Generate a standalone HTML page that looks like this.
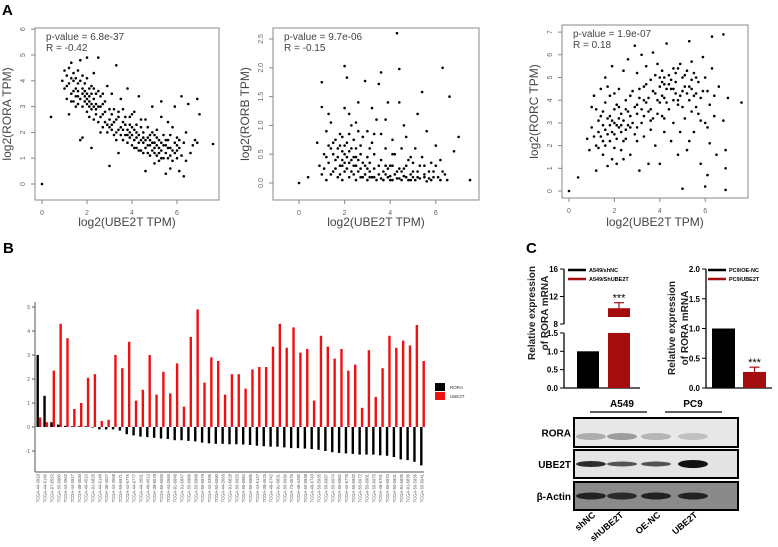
<!DOCTYPE html>
<html><head><meta charset="utf-8">
<style>
html,body{margin:0;padding:0;background:#fff;}
svg{display:block;font-family:"Liberation Sans",sans-serif;}
</style></head>
<body>
<svg id="fig" width="778" height="547" viewBox="0 0 778 547" xmlns="http://www.w3.org/2000/svg">
<text x="2" y="15" font-size="15" font-weight="bold">A</text>
<text x="3" y="253" font-size="15" font-weight="bold">B</text>
<text x="526" y="253" font-size="15" font-weight="bold">C</text>
<g id="scatters"></g>
<g id="barB"></g>
<g id="panelC"></g>
</svg>
<script>
// ---------- Panel A data ----------
const roraPoints = [0,0, 0.4,2.6, 7.6,1.55, 1.0,4.4, 1.1,4.2, 1.2,3.9, 1.3,4.7, 1.4,3.6, 1.5,4.1, 1.6,3.4, 1.7,4.8, 1.8,3.7, 1.9,3.2, 2.0,4.9, 2.0,3.5, 2.1,3.0, 2.2,3.8, 2.3,3.3, 2.4,2.9, 2.5,4.9, 2.5,3.6, 2.6,2.6, 2.7,3.1, 2.8,2.4, 2.9,3.8, 3.0,2.2, 3.1,2.7, 3.2,1.9, 3.3,4.6, 3.3,2.5, 3.4,2.1, 3.5,3.3, 3.6,1.7, 3.7,2.6, 3.8,3.7, 3.8,1.9, 3.9,2.3, 4.0,1.5, 4.1,2.8, 4.2,1.8, 4.3,3.4, 4.3,1.3, 4.4,2.2, 4.5,1.6, 4.6,2.5, 4.7,1.2, 4.8,1.9, 4.9,3.0, 5.0,1.4, 5.0,0.8, 5.1,2.1, 5.2,1.7, 5.3,3.2, 5.4,1.0, 5.5,1.5, 5.6,2.4, 5.7,0.6, 5.8,1.3, 5.9,3.0, 6.0,1.8, 6.1,0.5, 6.2,3.4, 6.3,1.6, 6.5,3.1, 6.6,1.2, 6.8,1.7, 6.9,3.3, 7.0,2.7, 6.0,1.0, 1.2,2.7, 1.5,3.0, 1.8,1.8, 2.2,1.4, 2.6,2.0, 3.0,0.7, 3.4,1.2, 4.0,2.7, 4.6,0.5, 5.5,0.4, 6.3,0.3, 1.0,3.7, 1.6,3.9, 2.4,3.5, 2.8,3.2, 3.6,2.9, 4.4,1.7, 5.2,1.2, 5.8,2.2, 1.7,1.7, 2.3,4.3, 3.1,3.5, 0.9,4.0, 1.1,3.3, 1.3,3.5, 1.4,4.3, 1.5,3.7, 1.7,3.3, 1.8,4.2, 1.9,3.6, 2.0,2.8, 2.1,3.4, 2.2,3.1, 2.3,2.5, 2.5,3.0, 2.7,2.7, 2.9,2.3, 3.0,2.9, 3.2,2.4, 3.3,2.0, 3.5,2.2, 3.7,1.9, 3.9,2.0, 4.0,1.9, 4.1,1.7, 4.2,2.3, 4.3,1.6, 4.5,2.0, 4.6,1.4, 4.7,1.8, 4.8,1.5, 4.9,1.3, 5.0,1.9, 5.1,1.5, 5.2,0.9, 5.3,1.6, 5.4,1.9, 5.5,1.2, 5.6,1.4, 5.7,1.1, 5.9,1.6, 6.0,1.3, 6.2,1.1, 6.4,2.0, 6.7,1.5, 6.9,1.6, 1.6,3.1, 1.9,3.9, 2.1,3.7, 2.4,3.1, 2.6,3.4, 3.6,2.4, 3.8,2.1, 4.2,1.4, 4.4,2.5, 4.7,2.2, 5.1,1.1, 5.3,2.6, 5.6,1.7, 1.3,4.1, 1.4,3.2, 2.0,3.3, 2.2,2.9, 4.8,1.1, 5.0,1.6, 1.2,4.5, 1.4,4.0, 1.5,3.4, 1.6,3.6, 1.7,4.0, 1.8,3.5, 1.9,3.4, 2.0,3.1, 2.1,3.2, 2.2,3.5, 2.3,3.0, 2.4,2.7, 2.5,2.4, 2.6,3.0, 2.7,2.2, 2.8,2.8, 2.9,2.0, 3.0,2.5, 3.1,2.1, 3.2,2.9, 3.3,1.7, 3.4,2.6, 3.5,1.9, 3.6,2.1, 3.7,2.3, 3.8,1.6, 3.9,1.8, 4.0,2.2, 4.1,1.4, 4.2,2.0, 4.3,1.9, 4.4,1.3, 4.5,1.8, 4.6,1.7, 4.7,1.5, 4.8,1.7, 4.9,1.6, 5.0,1.2, 5.1,1.8, 5.2,1.4, 5.3,1.3, 5.4,1.5, 5.5,1.7, 5.6,1.0, 5.7,1.4, 5.8,0.9, 5.9,1.2, 6.0,1.5, 6.1,1.7, 1.1,3.8, 1.3,3.2, 1.6,4.4, 1.8,3.0, 2.0,4.1, 2.1,2.6, 2.3,3.7, 2.7,3.5, 3.1,2.3, 3.4,2.8, 3.9,2.6, 4.1,2.1, 4.5,1.2, 4.9,2.0, 5.3,1.0, 5.7,1.9, 6.1,1.4, 6.4,0.9];
const rorbPoints = [0,0, 0.4,0.1, 7.5,0.05, 1.0,1.75, 1.0,1.32, 1.3,1.2, 1.5,0.7, 1.6,0.4, 1.8,0.3, 1.9,0.55, 2.0,2.03, 2.1,1.83, 2.0,0.2, 2.2,0.35, 2.3,0.6, 2.4,0.15, 2.5,0.45, 2.6,1.4, 2.7,0.25, 2.9,1.77, 3.0,0.9, 3.1,0.1, 3.3,0.5, 3.5,1.72, 3.6,1.92, 3.8,0.3, 3.9,1.4, 4.0,0.05, 4.1,0.75, 4.3,2.6, 4.4,1.98, 4.5,0.2, 4.6,1.0, 4.8,0.4, 5.0,0.1, 5.2,1.2, 5.4,1.58, 5.5,0.3, 5.8,0.05, 6.0,0.65, 6.3,2.0, 6.6,1.5, 6.8,0.55, 7.0,0.8, 0.8,0.7, 0.9,0.3, 1.0,0.15, 1.1,0.5, 1.2,0.05, 1.3,0.35, 1.4,0.6, 1.5,0.2, 1.6,0.75, 1.7,0.1, 1.7,0.45, 1.8,0.65, 1.9,0.05, 1.9,0.3, 2.0,0.5, 2.1,0.25, 2.1,0.7, 2.2,0.1, 2.3,0.4, 2.3,1.0, 2.4,0.3, 2.5,0.05, 2.5,0.6, 2.6,0.2, 2.7,0.5, 2.8,0.1, 2.8,0.8, 2.9,0.3, 3.0,0.05, 3.0,0.45, 3.1,0.2, 3.2,0.1, 3.2,0.7, 3.3,0.25, 3.4,0.05, 3.4,1.1, 3.5,0.15, 3.6,0.4, 3.7,0.05, 3.7,0.2, 3.8,0.6, 3.9,0.1, 4.0,0.3, 4.1,0.05, 4.2,0.15, 4.2,0.5, 4.3,0.08, 4.4,0.25, 4.5,0.05, 4.6,0.12, 4.7,0.3, 4.8,0.05, 4.9,0.15, 5.0,0.35, 5.1,0.05, 5.2,0.2, 5.3,0.08, 5.4,0.45, 5.5,0.1, 5.6,0.03, 5.7,0.2, 5.9,0.1, 6.0,0.3, 6.2,0.05, 6.4,0.15, 6.5,0.05, 1.2,0.9, 1.4,1.05, 2.0,1.3, 2.2,1.2, 2.6,0.9, 3.2,1.3, 3.8,1.1, 4.4,1.4, 4.7,0.8, 5.1,0.6, 5.6,0.9, 6.2,0.4, 1.8,0.85, 2.4,0.75, 3.6,0.85, 4.5,0.6, 1.1,0.25, 1.2,0.45, 1.4,0.15, 1.5,0.5, 1.6,0.25, 1.7,0.6, 1.8,0.15, 1.9,0.4, 2.0,0.35, 2.0,0.65, 2.1,0.45, 2.2,0.55, 2.3,0.2, 2.4,0.45, 2.5,0.3, 2.6,0.4, 2.7,0.1, 2.8,0.35, 2.9,0.15, 3.0,0.25, 3.1,0.35, 3.3,0.1, 3.5,0.3, 3.6,0.08, 3.8,0.15, 3.9,0.25, 4.0,0.12, 4.1,0.3, 4.3,0.2, 4.4,0.08, 4.6,0.25, 4.7,0.1, 4.9,0.05, 5.0,0.2, 5.2,0.1, 5.3,0.3, 5.5,0.15, 5.7,0.08, 5.9,0.2, 6.1,0.1, 6.3,0.2, 1.3,0.65, 1.9,0.8, 2.2,0.85, 2.5,1.05, 2.7,0.65, 3.1,0.6, 3.3,0.85, 4.1,0.5, 4.9,0.45, 5.8,0.35];
const rorcPoints = [0,0, 0.4,0.6, 7.6,3.9, 0.8,2.3, 0.9,1.8, 1.0,2.8, 1.0,3.7, 1.1,4.2, 1.2,0.9, 1.2,2.0, 1.3,3.1, 1.4,2.4, 1.4,4.5, 1.5,1.6, 1.5,3.5, 1.6,2.7, 1.6,5.0, 1.7,1.1, 1.7,3.2, 1.8,2.2, 1.8,4.2, 1.9,5.5, 1.9,1.4, 2.0,3.0, 2.0,2.5, 2.1,3.8, 2.1,1.2, 2.2,4.5, 2.2,2.8, 2.3,3.4, 2.3,1.8, 2.4,5.3, 2.4,2.2, 2.5,3.6, 2.5,4.0, 2.6,2.9, 2.6,5.8, 2.7,1.6, 2.7,3.3, 2.8,4.4, 2.9,2.5, 2.9,6.4, 3.0,3.8, 3.0,5.2, 3.1,0.9, 3.1,4.1, 3.2,3.0, 3.2,6.0, 3.3,4.6, 3.3,2.4, 3.4,5.5, 3.5,3.5, 3.5,1.2, 3.6,4.9, 3.7,3.2, 3.7,6.1, 3.8,4.3, 3.8,2.0, 3.9,5.6, 4.0,3.9, 4.0,1.2, 4.1,4.8, 4.1,3.3, 4.2,5.0, 4.2,2.6, 4.3,4.5, 4.3,6.5, 4.4,3.6, 4.5,4.9, 4.5,2.2, 4.6,5.4, 4.6,3.0, 4.7,4.3, 4.8,1.6, 4.8,3.8, 4.9,5.6, 5.0,4.4, 5.0,0.1, 5.1,3.2, 5.1,5.1, 5.2,1.8, 5.3,4.6, 5.3,6.6, 5.4,3.5, 5.4,5.7, 5.5,4.2, 5.5,2.6, 5.6,5.0, 5.7,3.4, 5.8,4.1, 5.8,1.2, 5.9,5.9, 6.0,3.0, 6.0,0.2, 6.1,4.4, 6.2,2.1, 6.3,5.4, 6.4,3.3, 6.5,1.6, 6.6,4.6, 6.8,6.9, 6.8,3.1, 6.9,1.0, 6.9,1.8, 7.0,4.1, 6.3,6.8, 6.9,0.05, 6.1,0.7, 1.3,2.6, 1.6,2.0, 1.8,3.3, 2.0,3.6, 2.1,2.9, 2.3,2.6, 2.5,2.3, 2.7,2.8, 3.4,3.9, 3.6,3.6, 3.9,4.0, 4.0,4.6, 4.2,4.1, 4.4,4.7, 4.6,4.5, 4.8,4.0, 5.0,3.7, 5.2,4.3, 5.4,4.9, 5.6,4.3, 1.5,2.9, 1.9,2.6, 2.2,3.2, 3.0,3.4, 3.3,4.0, 4.1,5.3, 4.7,5.2, 1.1,2.4, 1.2,3.6, 1.3,1.9, 1.4,3.3, 1.5,2.2, 1.6,3.9, 1.7,2.5, 1.8,2.9, 1.9,3.1, 2.0,1.9, 2.1,2.3, 2.2,3.7, 2.3,2.9, 2.4,3.1, 2.5,2.7, 2.6,3.5, 2.7,4.2, 2.8,3.0, 2.9,3.7, 3.0,2.8, 3.1,4.5, 3.2,3.6, 3.3,3.3, 3.4,4.7, 3.5,4.1, 3.6,3.1, 3.7,4.4, 3.8,5.1, 3.9,3.4, 4.0,5.0, 4.1,4.2, 4.2,4.7, 4.3,3.9, 4.4,5.1, 4.5,4.5, 4.6,4.0, 4.7,4.8, 4.8,5.4, 4.9,4.2, 5.0,5.0, 5.1,4.6, 5.2,5.3, 5.3,4.0, 5.4,4.5, 5.5,5.2, 5.6,3.7, 5.7,4.8, 5.8,3.1, 5.9,4.4, 6.0,5.0, 6.2,3.8, 6.4,4.2, 1.7,4.6, 2.0,4.3, 2.4,1.4, 3.0,2.2, 3.6,2.7, 4.2,3.2, 4.9,2.6, 5.3,2.2, 6.1,2.8];
const scatterTitles = ["log2(RORA TPM)","log2(RORB TPM)","log2(RORC TPM)"];
const scatterStats = [["p-value = 6.8e-37","R = -0.42"],["p-value = 9.7e-06","R = -0.15"],["p-value = 1.9e-07","R = 0.18"]];
const xTicksA = [0,2,4,6];
const yTicksA = [[0,1,2,3,4,5,6],["0.0","0.5","1.0","1.5","2.0","2.5"],[0,1,2,3,4,5,6,7]];
const yTickValsB = [[0,1,2,3,4,5,6],[0,0.5,1,1.5,2,2.5],[0,1,2,3,4,5,6,7]];

// ---------- Panel B data ----------
const sampleIds = ["TCGA-44-3918","TCGA-44-6146","TCGA-97-8552","TCGA-55-6980","TCGA-44-2662","TCGA-44-3917","TCGA-38-4630","TCGA-49-4510","TCGA-91-6829","TCGA-44-6148","TCGA-38-4627","TCGA-44-2668","TCGA-55-6971","TCGA-44-6775","TCGA-44-6777","TCGA-44-2661","TCGA-49-4512","TCGA-38-6678","TCGA-50-6593","TCGA-44-2665","TCGA-91-6849","TCGA-91-6847","TCGA-55-6986","TCGA-55-6968","TCGA-55-6979","TCGA-44-3396","TCGA-50-6590","TCGA-44-2666","TCGA-91-6828","TCGA-50-5933","TCGA-55-6984","TCGA-55-6985","TCGA-44-6147","TCGA-38-4625","TCGA-49-6742","TCGA-91-6831","TCGA-50-5930","TCGA-73-4676","TCGA-49-4490","TCGA-50-5939","TCGA-49-6743","TCGA-50-5935","TCGA-55-6987","TCGA-55-6974","TCGA-55-6982","TCGA-44-6776","TCGA-50-5932","TCGA-55-6972","TCGA-55-6981","TCGA-55-6975","TCGA-49-6761","TCGA-55-6970","TCGA-50-5931","TCGA-91-6835","TCGA-91-6836","TCGA-50-5936","TCGA-50-5941"];
const roraValues = [3.0,1.3,0.2,0.1,0.05,0.03,0.03,0.03,0.0,-0.1,-0.1,-0.1,-0.15,-0.3,-0.35,-0.4,-0.42,-0.45,-0.48,-0.5,-0.55,-0.55,-0.58,-0.6,-0.65,-0.68,-0.7,-0.7,-0.72,-0.72,-0.73,-0.75,-0.78,-0.8,-0.82,-0.82,-0.85,-0.88,-0.88,-0.9,-0.92,-0.95,-1.0,-1.05,-1.08,-1.1,-1.12,-1.15,-1.15,-1.15,-1.18,-1.2,-1.25,-1.35,-1.38,-1.45,-1.6];
const ube2tValues = [0.4,0.2,2.35,4.3,3.7,0.75,1.0,2.05,2.2,0.25,0.3,3.0,2.45,3.55,1.1,1.55,3.0,1.35,2.3,1.4,2.65,0.85,3.75,4.9,1.85,2.9,2.75,1.35,2.2,2.2,1.6,2.4,2.5,2.5,3.35,4.3,3.3,4.15,3.1,3.25,1.1,3.8,3.35,2.85,3.25,2.35,2.6,0.8,3.2,1.25,2.45,3.8,3.3,3.6,3.4,4.25,2.75];
const yTicksB = [-1,0,1,2,3,4,5];

// ---------- Panel C data ----------
const qpcrLeftGroups = ["A549/shNC","A549/ShUBE2T"];
const qpcrLeftValues = [1.0,10.3];
const qpcrLeftErr = [0,0.8];
const qpcrRightGroups = ["PC9/OE-NC","PC9/UBE2T"];
const qpcrRightValues = [1.0,0.27];
const qpcrRightErr = [0,0.08];
const lowTicksL = ["0.0","0.5","1.0","1.5"];
const highTicksL = [8,12,16];
const ticksR = ["0.0","0.5","1.0","1.5","2.0"];
const blotRows = ["RORA","UBE2T","β-Actin"];
const laneLabels = ["shNC","shUBE2T","OE-NC","UBE2T"];

const NS="http://www.w3.org/2000/svg";
function mk(tag, attrs, parent, text){
  const e=document.createElementNS(NS,tag);
  for(const k in attrs) e.setAttribute(k,attrs[k]);
  if(text!==undefined) e.textContent=text;
  parent.appendChild(e); return e;
}

// ---------- Panel A ----------
const sc=document.getElementById('scatters');
const cfgA=[
  {pts:roraPoints, box:[35,28,219,200], x0:42, xu:22.5, y0:184, yu:25.8},
  {pts:rorbPoints, box:[273,28,479,200], x0:299, xu:22.8, y0:183, yu:57.6},
  {pts:rorcPoints, box:[562,25,748,198], x0:569, xu:22.7, y0:191, yu:22.7}
];
cfgA.forEach((c,i)=>{
  const g=mk('g',{},sc);
  
  
  const b=c.box;
  const fr=mk('rect',{x:b[0],y:b[1],width:b[2]-b[0],height:b[3]-b[1],fill:'none',stroke:'#888','stroke-width':1},g);
  
  
  const sx=v=>c.x0+v*c.xu, sy=v=>c.y0-v*c.yu;
  for(let k=0;k<c.pts.length;k+=2){
    const d=mk('circle',{cx:sx(c.pts[k]).toFixed(1),cy:sy(c.pts[k+1]).toFixed(1),r:1.3,fill:'#000'},g);
    
    
  }
  xTicksA.forEach(t=>{
    mk('line',{x1:sx(t),x2:sx(t),y1:b[3],y2:b[3]+4,stroke:'#888'},g);
    const tl=mk('text',{x:sx(t),y:b[3]+15,'font-size':7,fill:'#666','text-anchor':'middle'},g,String(t));
    
    
  });
  yTickValsB[i].forEach((t,j)=>{
    mk('line',{x1:b[0]-4,x2:b[0],y1:sy(t),y2:sy(t),stroke:'#888'},g);
    const tl=mk('text',{x:b[0]-10,y:sy(t),'font-size':7,fill:'#666','text-anchor':'middle',transform:`rotate(-90 ${b[0]-10} ${sy(t)})`},g,String(yTicksA[i][j]));
    
    
  });
  const xl=mk('text',{x:(b[0]+b[2])/2,y:226,'font-size':12,fill:'#444','text-anchor':'middle'},g,'log2(UBE2T TPM)');
  
  
  const yx=b[0]-24, yy=(b[1]+b[3])/2;
  const yl=mk('text',{x:yx,y:yy,'font-size':12,fill:'#444','text-anchor':'middle',transform:`rotate(-90 ${yx} ${yy})`},g,scatterTitles[i]);
  
  
  scatterStats[i].forEach((s,j)=>{
    const st=mk('text',{x:b[0]+11,y:b[1]+12+j*11,'font-size':10,fill:'#444'},g,s);
    
    
  });
});

// ---------- Panel B ----------
const gb=document.getElementById('barB');
const yB=v=>427-v*24;
const pairX=i=>37.7+i*6.85;
mk('line',{x1:35,x2:35,y1:302,y2:472,stroke:'#555'},gb);
mk('line',{x1:35,x2:424,y1:472,y2:472,stroke:'#555'},gb);
yTicksB.forEach(t=>{
  mk('line',{x1:32,x2:35,y1:yB(t),y2:yB(t),stroke:'#555'},gb);
  const tl=mk('text',{x:30,y:yB(t)+2,'font-size':5,fill:'#555','text-anchor':'end'},gb,String(t));
  
  
});
sampleIds.forEach((id,i)=>{
  const x=pairX(i);
  const rv=roraValues[i];
  const rb=mk('rect',{x:x-1.2,y:Math.min(yB(rv),yB(0)),width:2.4,height:Math.max(0.6,Math.abs(yB(rv)-yB(0))),fill:'#000'},gb);
  
  
  const uv=ube2tValues[i];
  const ub=mk('rect',{x:x+1.2,y:Math.min(yB(uv),yB(0)),width:2.4,height:Math.abs(yB(uv)-yB(0)),fill:'#ee1111'},gb);
  
  
  const lx=x+2, ly=474;
  const tl=mk('text',{x:lx,y:ly,'font-size':4.2,fill:'#555','text-anchor':'end',transform:`rotate(-90 ${lx} ${ly})`},gb,id);
  
  
});
const lg=mk('g',{},gb);


mk('rect',{x:435,y:383,width:10,height:8,fill:'#000'},lg);
mk('rect',{x:435,y:392,width:10,height:8,fill:'#ee1111'},lg);
mk('text',{x:450,y:389,'font-size':4.5,fill:'#333'},lg,'RORA');
mk('text',{x:450,y:398,'font-size':4.5,fill:'#333'},lg,'UBE2T');

// ---------- Panel C ----------
const gc=document.getElementById('panelC');
const dark='#a30d0d';
const yLlow=v=>388-v*36.7;
const yLhigh=v=>324-(v-8)*6.875;
const yL=v=>v<=1.5?yLlow(v):yLhigh(v);
const L=mk('g',{},gc);


mk('line',{x1:564,x2:564,y1:333,y2:388,stroke:'#000','stroke-width':1.3},L);
mk('line',{x1:564,x2:564,y1:269,y2:324,stroke:'#000','stroke-width':1.3},L);
mk('line',{x1:564,x2:640,y1:388,y2:388,stroke:'#000','stroke-width':1.3},L);
lowTicksL.forEach(t=>{mk('line',{x1:560,x2:564,y1:yLlow(+t),y2:yLlow(+t),stroke:'#000'},L);
  const tl=mk('text',{x:558,y:yLlow(+t)+3,'font-size':8,'font-weight':'bold','text-anchor':'end'},L,t);
  
  });
highTicksL.forEach(t=>{mk('line',{x1:560,x2:564,y1:yLhigh(t),y2:yLhigh(t),stroke:'#000'},L);
  const tl=mk('text',{x:558,y:yLhigh(t)+3,'font-size':8,'font-weight':'bold','text-anchor':'end'},L,String(t));
  
  });
const barXL=[577,608];
qpcrLeftValues.forEach((v,i)=>{
  const col=i==0?'#000':dark;
  if(v<=1.5){
    const b=mk('rect',{x:barXL[i],y:yLlow(v),width:22,height:388-yLlow(v),fill:col},L);
    
    
  } else {
    const b=mk('rect',{x:barXL[i],y:yLlow(1.5),width:22,height:388-yLlow(1.5),fill:col},L);
    
    
    const b2=mk('rect',{x:barXL[i],y:yLhigh(v),width:22,height:yLhigh(8)-7-yLhigh(v),fill:col},L);
    
    
  }
  if(qpcrLeftErr[i]>0){
    const cx=barXL[i]+11, ye=yL(v+qpcrLeftErr[i]);
    mk('line',{x1:cx,x2:cx,y1:ye,y2:yL(v),stroke:col,'stroke-width':1.2},L);
    mk('line',{x1:cx-5,x2:cx+5,y1:ye,y2:ye,stroke:col,'stroke-width':1.2},L);
    const s=mk('text',{x:cx,y:ye-1,'font-size':11,'text-anchor':'middle'},L,'***');
    
    
  }
});
qpcrLeftGroups.forEach((gname,i)=>{
  mk('line',{x1:568,x2:586,y1:270+i*9,y2:270+i*9,stroke:i==0?'#000':dark,'stroke-width':2.5},L);
  const t=mk('text',{x:589,y:272+i*9,'font-size':5.5,'font-weight':'bold'},L,gname);
  
  
});
[['Relative expression',535],['of RORA mRNA',548]].forEach(([s,x])=>{
  const t=mk('text',{x:x,y:313,'font-size':10,'font-weight':'bold',fill:'#222','text-anchor':'middle',transform:`rotate(-90 ${x} 313)`},L,s);
  
  
});
const yR=v=>388-v*59.5;
const R=mk('g',{},gc);


mk('line',{x1:706,x2:706,y1:269,y2:388,stroke:'#000','stroke-width':1.3},R);
mk('line',{x1:706,x2:772,y1:388,y2:388,stroke:'#000','stroke-width':1.3},R);
ticksR.forEach(t=>{mk('line',{x1:702,x2:706,y1:yR(+t),y2:yR(+t),stroke:'#000'},R);
  const tl=mk('text',{x:700,y:yR(+t)+3,'font-size':8,'font-weight':'bold','text-anchor':'end'},R,t);
  
  });
const barXR=[712,743];
qpcrRightValues.forEach((v,i)=>{
  const col=i==0?'#000':dark;
  const b=mk('rect',{x:barXR[i],y:yR(v),width:23,height:388-yR(v),fill:col},R);
  
  
  if(qpcrRightErr[i]>0){
    const cx=barXR[i]+11.5, ye=yR(v+qpcrRightErr[i]);
    mk('line',{x1:cx,x2:cx,y1:ye,y2:yR(v),stroke:col,'stroke-width':1.2},R);
    mk('line',{x1:cx-5,x2:cx+5,y1:ye,y2:ye,stroke:col,'stroke-width':1.2},R);
    const s=mk('text',{x:cx,y:ye-1,'font-size':11,'text-anchor':'middle'},R,'***');
    
    
  }
});
qpcrRightGroups.forEach((gname,i)=>{
  mk('line',{x1:708,x2:726,y1:270+i*9,y2:270+i*9,stroke:i==0?'#000':dark,'stroke-width':2.5},R);
  const t=mk('text',{x:729,y:272+i*9,'font-size':5.5,'font-weight':'bold'},R,gname);
  
  
});
[['Relative expression',675],['of RORA mRNA',688]].forEach(([s,x])=>{
  const t=mk('text',{x:x,y:328,'font-size':10,'font-weight':'bold',fill:'#222','text-anchor':'middle',transform:`rotate(-90 ${x} 328)`},R,s);
  
  
});
const W=mk('g',{},gc);


[['A549',622,590,647],['PC9',693,665,722]].forEach(([s,x,a,b])=>{
  const t=mk('text',{x:x,y:407,'font-size':10,'font-weight':'bold','text-anchor':'middle'},W,s);
  
  
  mk('line',{x1:a,x2:b,y1:412,y2:412,stroke:'#000','stroke-width':1.2},W);
});
const rowY=[[418,447,'#e8e8e8'],[450,478,'#e4e4e4'],[482,510,'#8a8a8a']];
const laneX=[591,622,656,693];
const bandStyle=[
  [[5,'#999',0.75],[5,'#888',0.8],[5,'#a0a0a0',0.7],[5,'#aaa',0.65]],
  [[4,'#222',0.95],[3,'#444',0.9],[3,'#444',0.9],[6,'#111',1]],
  [[5,'#222',1],[5,'#2a2a2a',1],[5,'#222',1],[5,'#222',1]]
];
blotRows.forEach((name,r)=>{
  const [y1,y2,bg]=rowY[r];
  const fr=mk('rect',{x:574,y:y1,width:164,height:y2-y1,fill:bg,stroke:'#000','stroke-width':2},W);
  
  
  const cy=(y1+y2)/2+(r==0?4:0);
  laneX.forEach((x,l)=>{
    const [h,c,o]=bandStyle[r][l];
    const band=mk('ellipse',{cx:x,cy:cy,rx:15,ry:h/2+1,fill:c,opacity:o},W);
    
    
  });
  const t=mk('text',{x:571,y:(y1+y2)/2+4,'font-size':10,'font-weight':'bold','text-anchor':'end'},W,name);
  
  
});
const laneLX=[596,624,661,698];
laneLabels.forEach((s,i)=>{
  const x=laneLX[i], y=516;
  const t=mk('text',{x:x,y:y,'font-size':9,'font-weight':'bold','text-anchor':'end',transform:`rotate(-40 ${x} ${y})`},W,s);
  
  
});
</script>
</body></html>
